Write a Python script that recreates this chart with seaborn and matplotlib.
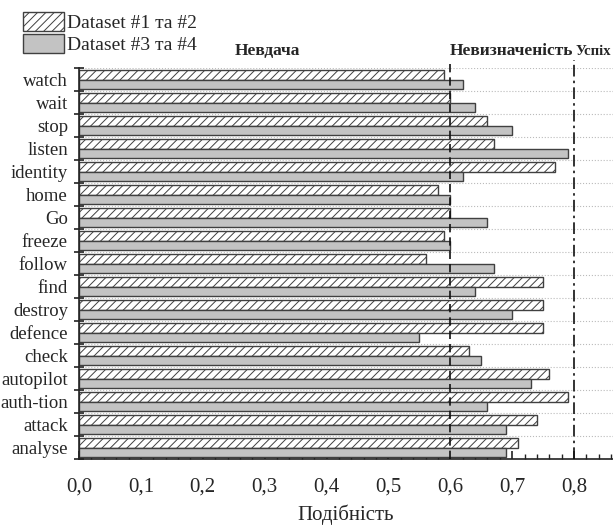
import pandas as pd
import numpy as np
import matplotlib
matplotlib.use('Agg')
import matplotlib.pyplot as plt
from matplotlib.patches import Patch
from matplotlib.ticker import FuncFormatter, MultipleLocator, FixedLocator
import seaborn as sns

# data
words = ['watch', 'wait', 'stop', 'listen', 'identity', 'home', 'Go', 'freeze',
         'follow', 'find', 'destroy', 'defence', 'check', 'autopilot',
         'auth-tion', 'attack', 'analyse']
set_12 = [0.59, 0.60, 0.66, 0.67, 0.77, 0.58, 0.60, 0.59,
          0.56, 0.75, 0.75, 0.75, 0.63, 0.76, 0.79, 0.74, 0.71]
set_34 = [0.62, 0.64, 0.70, 0.79, 0.62, 0.60, 0.66, 0.60,
          0.67, 0.64, 0.70, 0.55, 0.65, 0.73, 0.66, 0.69, 0.69]
series_names = ['Dataset #1 та #2', 'Dataset #3 та #4']
thresholds = [0.6, 0.8]
zone_labels = ['Невдача', 'Невизначеність', 'Успіх']

df = pd.DataFrame({
    'word': words * 2,
    'value': set_12 + set_34,
    'dataset': [series_names[0]] * len(words) + [series_names[1]] * len(words),
})

sns.set_theme(style='white')
plt.rcParams['font.family'] = ['Liberation Serif', 'DejaVu Serif']
plt.rcParams['hatch.linewidth'] = 0.7
plt.rcParams['hatch.color'] = '#404040'

fig = plt.figure(figsize=(6.13, 5.32), dpi=100)
ax = fig.add_axes([79 / 613, 0.137, 534 / 613, 0.735])

edge = '#404040'
fills = ['white', '#c3c3c3']
sns.barplot(data=df, y='word', x='value', hue='dataset', orient='h',
            palette=fills, edgecolor=edge, linewidth=1.0, width=0.84,
            legend=False, ax=ax, zorder=2)
for bar in ax.containers[0]:
    bar.set_hatch('////')

ax.set_xlim(0, 0.863)
ax.set_ylim(len(words) - 0.5, -0.5)

# x axis: decimal comma, minor ticks every 0.02
ax.xaxis.set_major_locator(MultipleLocator(0.1))
ax.xaxis.set_minor_locator(MultipleLocator(0.02))
ax.xaxis.set_major_formatter(FuncFormatter(lambda v, p: f'{v:.1f}'.replace('.', ',')))
ax.tick_params(axis='x', which='major', direction='in', length=6, width=1.2,
               labelsize=15, pad=13, color='#222222', bottom=True)
ax.tick_params(axis='x', which='minor', direction='in', length=3.5, width=1.0,
               color='#222222', bottom=True)

# y axis: ticks at group boundaries, labels at group centres
ax.yaxis.set_major_locator(FixedLocator(np.arange(-0.5, len(words), 1.0)))
ax.yaxis.set_minor_locator(FixedLocator(np.arange(len(words))))
ax.yaxis.set_major_formatter(plt.NullFormatter())
ax.yaxis.set_minor_formatter(FuncFormatter(lambda v, p: words[int(round(v))]))
ax.tick_params(axis='y', which='major', direction='inout', length=7, width=1.2,
               color='#222222', left=True)
ax.tick_params(axis='y', which='minor', length=0, labelsize=13.5, pad=8, left=True)

ax.set_axisbelow(True)
ax.yaxis.grid(True, which='major', linestyle=':', color='#bbbbbb', linewidth=0.8)
ax.xaxis.grid(False)

for side in ['top', 'right']:
    ax.spines[side].set_visible(False)
for side in ['left', 'bottom']:
    ax.spines[side].set_color('#222222')
    ax.spines[side].set_linewidth(1.2)

ax.set_ylabel('')
ax.set_xlabel('Подібність', fontsize=15, labelpad=6)

# threshold lines
trans = ax.get_xaxis_transform()
ax.plot([thresholds[0]] * 2, [0, 1.02], transform=trans, color='#111111',
        linewidth=1.2, linestyle=(0, (5, 3)), clip_on=False, zorder=5)
ax.plot([thresholds[1]] * 2, [0, 1.02], transform=trans, color='#111111',
        linewidth=1.2, linestyle=(0, (7, 2.5, 1.5, 2.5)), clip_on=False, zorder=5)

ax.text(0.305, 1.043, zone_labels[0], transform=trans, ha='center', va='center',
        fontsize=12.5, fontweight='bold')
ax.text(0.798, 1.043, zone_labels[1], transform=trans, ha='right', va='center',
        fontsize=12.5, fontweight='bold')
ax.text(0.803, 1.043, zone_labels[2], transform=trans, ha='left', va='center',
        fontsize=10.5, fontweight='bold')

handles = [Patch(facecolor=fills[0], edgecolor=edge, hatch='////', linewidth=1.0),
           Patch(facecolor=fills[1], edgecolor=edge, linewidth=1.0)]
fig.legend(handles, series_names, loc='upper left',
           bbox_to_anchor=(23 / 613, 1 - 12 / 532),
           frameon=False, fontsize=14, handlelength=2.1, handleheight=1.1,
           handletextpad=0.15, labelspacing=0.12, borderpad=0, borderaxespad=0)

fig.savefig('out.png', dpi=100)
